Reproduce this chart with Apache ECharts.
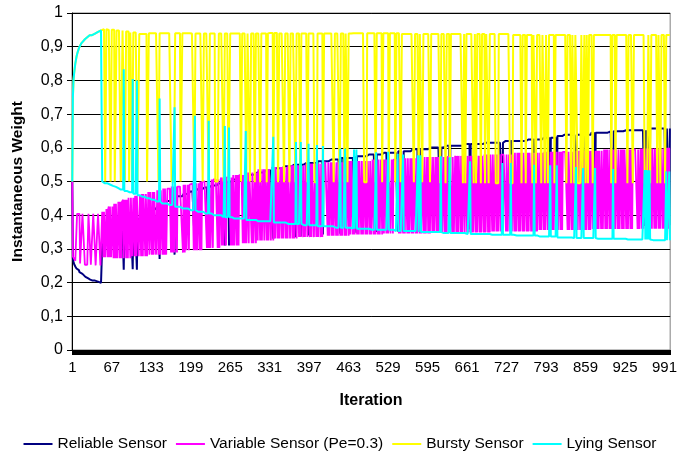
<!DOCTYPE html>
<html>
<head>
<meta charset="utf-8">
<script src="https://cdn.jsdelivr.net/npm/echarts@6/dist/echarts.min.js"></script>
<style>
  html, body { margin: 0; padding: 0; background: #ffffff; }
  #chart { width: 680px; height: 454px; }
</style>
</head>
<body>
<div id="chart"></div>
<script>
// Iterations 1..1000 on a category axis
const ITERATIONS = 1000;
const categories = Array.from({ length: ITERATIONS }, (_, i) => String(i + 1));

// Level tables are [firstIteration, value]: a value holds until the next entry.
// Start-up rise shared by the lying and bursty sensors (iterations 1-50)
const startupRise = [
  [1, 0.5], [2, 0.75], [3, 0.8], [4, 0.82], [5, 0.835], [6, 0.85], [8, 0.87],
  [10, 0.884], [12, 0.895], [14, 0.903], [16, 0.91], [19, 0.916], [22, 0.922],
  [26, 0.928], [30, 0.934], [35, 0.939], [40, 0.944], [45, 0.948], [50, 0.951]
];

// Reliable sensor
const reliableBase = [
  [1, 0.5], [2, 0.272], [3, 0.262], [4, 0.255], [6, 0.248], [8, 0.242], [10, 0.237],
  [13, 0.231], [16, 0.226], [19, 0.222], [23, 0.217], [27, 0.213], [31, 0.209],
  [35, 0.206], [40, 0.203], [45, 0.201], [49, 0.199],
  [51, 0.312], [55, 0.318], [60, 0.327], [66, 0.336], [72, 0.342], [78, 0.35],
  [85, 0.358], [92, 0.366], [99, 0.374], [106, 0.382], [113, 0.39], [120, 0.398],
  [128, 0.408], [136, 0.418], [144, 0.427], [152, 0.434], [160, 0.442], [168, 0.449],
  [177, 0.456], [187, 0.463], [198, 0.47], [210, 0.477], [222, 0.482], [234, 0.488],
  [246, 0.494], [258, 0.5], [270, 0.506], [283, 0.513], [296, 0.52], [310, 0.527],
  [325, 0.533], [340, 0.539], [356, 0.545], [372, 0.55], [390, 0.555], [410, 0.56],
  [430, 0.565], [450, 0.57], [472, 0.575], [495, 0.58], [520, 0.585], [545, 0.59],
  [570, 0.596], [597, 0.601], [625, 0.606], [655, 0.611], [690, 0.615], [725, 0.62],
  [760, 0.625], [790, 0.63], [812, 0.635], [822, 0.639], [869, 0.645], [897, 0.649],
  [925, 0.652], [964, 0.657]
];
const reliableDips = [
  [87, 0.238], [102, 0.24], [109, 0.238], [147, 0.27], [172, 0.283], [206, 0.298],
  [229, 0.303], [256, 0.31], [263, 0.31], [291, 0.32], [337, 0.33], [375, 0.335],
  [383, 0.337], [396, 0.34], [410, 0.342], [420, 0.343], [449, 0.345], [457, 0.346],
  [472, 0.348], [476, 0.348], [509, 0.35], [529, 0.35], [545, 0.352], [554, 0.352],
  [579, 0.354], [583, 0.354], [617, 0.356], [632, 0.356], [666, 0.358], [720, 0.36],
  [734, 0.36], [773, 0.362], [800, 0.363], [811, 0.363], [843, 0.365], [855, 0.365],
  [875, 0.366], [905, 0.367], [958, 0.368], [960, 0.368], [962, 0.368], [964, 0.368],
  [966, 0.368], [994, 0.37], [999, 0.37]
];

// Variable sensor (Pe=0.3): upper and lower levels, and the iterations spent low
const variableHigh = [
  [1, 0.5], [2, 0.404], [51, 0.41], [56, 0.418], [62, 0.426], [70, 0.434], [78, 0.44],
  [86, 0.446], [95, 0.452], [105, 0.458], [116, 0.463], [128, 0.469], [140, 0.474],
  [152, 0.479], [166, 0.485], [182, 0.49], [198, 0.495], [215, 0.5], [232, 0.506],
  [250, 0.512], [270, 0.519], [290, 0.527], [312, 0.536], [335, 0.543], [360, 0.548],
  [390, 0.553], [420, 0.557], [460, 0.561], [500, 0.565], [545, 0.569], [590, 0.573],
  [640, 0.576], [690, 0.58], [740, 0.585], [790, 0.588], [840, 0.591], [890, 0.595],
  [950, 0.598], [990, 0.6]
];
const variableLow = [
  [1, 0.5], [2, 0.277], [6, 0.265], [12, 0.257], [20, 0.253], [35, 0.251],
  [51, 0.275], [70, 0.272], [100, 0.278], [130, 0.283], [160, 0.289], [190, 0.296],
  [220, 0.303], [250, 0.31], [280, 0.317], [310, 0.325], [340, 0.331], [380, 0.335],
  [420, 0.339], [465, 0.343], [520, 0.346], [600, 0.349], [700, 0.352], [780, 0.356],
  [870, 0.359], [950, 0.36]
];
// [firstIteration, length] of each low stretch
const variableLowRuns = [
  [2, 7], [14, 4], [22, 6], [32, 4], [40, 4], [48, 3],
  [53, 1], [56, 2], [60, 1], [63, 1], [66, 2], [70, 1], [73, 1], [76, 2], [80, 1],
  [83, 1], [87, 2], [91, 1], [94, 1], [98, 1], [101, 2], [105, 1], [108, 1], [112, 2],
  [116, 1], [119, 1], [123, 1], [126, 2], [130, 1], [134, 1], [137, 1], [141, 2],
  [145, 1], [148, 1],
  [152, 1], [155, 1], [158, 2], [166, 1], [169, 1], [172, 2], [176, 1], [186, 1],
  [189, 1], [192, 2], [196, 1], [204, 1], [207, 1], [210, 2], [214, 1], [217, 1],
  [226, 1], [229, 1], [232, 2], [236, 1], [244, 1], [247, 2], [251, 1], [254, 1],
  [258, 1], [266, 1], [269, 1], [272, 2], [276, 1], [279, 1], [286, 1], [289, 1],
  [292, 2], [296, 1],
  [301, 1], [304, 2], [308, 1], [311, 1], [315, 1], [318, 2], [322, 1], [326, 1],
  [329, 1], [333, 2], [337, 1], [340, 1], [344, 1], [347, 2], [351, 1], [354, 1],
  [358, 1], [361, 1], [365, 2], [369, 1], [372, 1], [376, 2], [380, 1], [383, 1],
  [387, 1], [390, 2], [394, 1], [398, 1], [401, 1], [405, 2], [409, 1], [412, 1],
  [416, 1], [419, 1],
  [428, 1], [431, 2], [435, 1], [438, 1], [442, 1], [445, 2], [449, 1], [452, 1],
  [456, 1], [459, 2], [463, 1], [466, 1], [470, 1], [473, 2], [477, 1], [480, 1],
  [484, 1], [487, 2], [491, 1], [494, 1], [498, 1], [501, 2], [505, 1], [508, 1],
  [512, 1], [515, 2], [519, 1], [522, 1], [526, 1], [529, 1], [533, 2], [537, 1],
  [547, 1], [550, 2], [554, 1], [557, 1], [561, 1], [564, 2], [568, 1], [571, 1],
  [575, 1], [578, 2], [582, 1], [585, 1], [589, 1], [592, 2], [596, 1], [599, 1],
  [603, 1], [606, 2], [610, 1], [613, 1], [617, 1], [620, 2], [624, 1], [627, 1],
  [636, 1], [639, 2], [643, 1], [646, 1], [650, 1], [653, 2], [657, 1],
  [661, 1], [664, 2], [668, 1], [671, 1], [675, 1], [678, 2], [682, 1], [685, 1],
  [689, 1], [692, 2], [696, 1], [699, 1], [703, 1], [706, 2], [710, 1], [713, 1],
  [717, 1], [726, 1], [729, 2], [733, 1], [736, 1], [740, 1], [743, 2], [747, 1],
  [750, 1], [754, 1], [757, 2], [761, 1], [764, 1], [768, 1], [771, 2], [775, 1],
  [778, 1], [782, 1], [785, 2], [789, 1], [792, 1], [796, 1], [799, 2], [803, 1],
  [806, 1], [810, 1], [813, 2], [817, 1], [820, 1], [829, 1], [832, 2], [836, 1],
  [839, 1], [843, 1], [846, 2], [850, 1], [853, 1], [857, 1], [860, 2], [864, 1],
  [867, 1], [871, 1], [874, 2], [878, 1], [881, 1], [885, 1], [888, 2], [892, 1],
  [895, 1], [899, 1], [902, 2], [906, 1], [909, 1], [913, 1], [916, 2], [920, 1],
  [923, 1], [927, 1], [930, 2], [934, 1], [937, 1], [946, 1], [949, 2], [953, 1],
  [956, 1], [960, 1], [963, 2], [967, 1], [970, 1], [974, 1], [977, 2], [981, 1],
  [984, 1], [988, 1], [991, 2], [995, 1], [998, 1]
];

// Bursty sensor: high and low levels after start-up, and the bursts spent low
const burstyHigh = [
  [51, 0.952], [60, 0.95], [72, 0.948], [88, 0.945], [98, 0.942], [110, 0.938],
  [128, 0.94], [200, 0.939], [330, 0.941], [345, 0.939], [470, 0.94], [550, 0.938],
  [735, 0.935]
];
const burstyLow = [[51, 0.5], [300, 0.498], [600, 0.495]];
const burstyDips = [
  [56, 2], [65, 2], [72, 3], [82, 3], [89, 2], [96, 2], [101, 2], [110, 3], [126, 3],
  [145, 2], [167, 6], [182, 3], [205, 2], [219, 2], [229, 2], [240, 6], [254, 2],
  [262, 3], [283, 2], [292, 2], [298, 2], [306, 2], [315, 2], [326, 2], [337, 2],
  [345, 2], [355, 2], [364, 2], [374, 2], [382, 2], [394, 2], [406, 5], [420, 2],
  [438, 2], [448, 2], [456, 2], [461, 2], [489, 5], [508, 2], [519, 2], [530, 2],
  [541, 2], [550, 2], [572, 2], [580, 2], [586, 2], [599, 2], [616, 2], [625, 2],
  [632, 2], [654, 2], [658, 2], [672, 2], [676, 2], [684, 2], [691, 2], [697, 2],
  [709, 5], [733, 5], [752, 2], [759, 2], [770, 2], [776, 2], [785, 2], [791, 2],
  [796, 2], [807, 2], [827, 2], [835, 2], [840, 2], [846, 6], [854, 3], [859, 2],
  [863, 2], [871, 2], [902, 2], [909, 2], [929, 2], [938, 2], [958, 6], [967, 2],
  [979, 2], [984, 2], [992, 2]
];

// Lying sensor: level after start-up and its isolated upward spikes
const lyingBase = [
  [51, 0.5], [55, 0.495], [60, 0.491], [65, 0.487], [70, 0.484], [76, 0.48],
  [82, 0.476], [88, 0.472], [95, 0.468], [102, 0.464], [110, 0.459], [118, 0.455],
  [126, 0.45], [134, 0.446], [142, 0.441], [151, 0.435], [160, 0.43], [170, 0.425],
  [182, 0.42], [195, 0.415], [208, 0.41], [222, 0.405], [238, 0.4], [254, 0.394],
  [270, 0.39], [290, 0.386], [312, 0.382], [335, 0.378], [360, 0.374], [385, 0.37],
  [410, 0.367], [440, 0.363], [470, 0.36], [500, 0.357], [540, 0.353], [577, 0.35],
  [620, 0.347], [660, 0.344], [703, 0.342], [740, 0.34], [780, 0.337], [810, 0.334],
  [840, 0.332], [880, 0.33], [930, 0.328], [970, 0.326]
];
const lyingSpikes = [
  [87, 0.833], [102, 0.804], [109, 0.8], [147, 0.746], [172, 0.72], [206, 0.695],
  [229, 0.68], [256, 0.665], [263, 0.66], [291, 0.65], [337, 0.633], [375, 0.617],
  [383, 0.617], [396, 0.612], [410, 0.608], [420, 0.605], [449, 0.597], [457, 0.597],
  [472, 0.595], [476, 0.595], [509, 0.587], [529, 0.588], [545, 0.582], [554, 0.58],
  [579, 0.578], [583, 0.578], [617, 0.575], [632, 0.572], [666, 0.56], [720, 0.555],
  [734, 0.555], [773, 0.55], [800, 0.548], [811, 0.548], [843, 0.543], [855, 0.54],
  [875, 0.54], [905, 0.537], [958, 0.534], [960, 0.534], [962, 0.533], [964, 0.533],
  [966, 0.533], [994, 0.53], [999, 0.53]
];

const STARTUP_END = 50;

// Value of a level table at iteration i (held until the next entry)
function levelAt(table, i) {
  let v = table[0][1];
  for (const [start, val] of table) {
    if (start <= i) v = val; else break;
  }
  return v;
}
function inRuns(runs, i) {
  return runs.some(([s, len]) => i >= s && i < s + len);
}
function pointMap(list) {
  const m = new Map();
  list.forEach(([it, v]) => m.set(it, v));
  return m;
}

const relDipMap = pointMap(reliableDips);
const lieSpikeMap = pointMap(lyingSpikes);

const reliable = [], variable = [], bursty = [], lying = [];
for (let i = 1; i <= ITERATIONS; i++) {
  reliable.push(relDipMap.has(i) ? relDipMap.get(i) : levelAt(reliableBase, i));
  variable.push(inRuns(variableLowRuns, i) ? levelAt(variableLow, i) : levelAt(variableHigh, i));
  if (i <= STARTUP_END) {
    bursty.push(levelAt(startupRise, i));
    lying.push(levelAt(startupRise, i));
  } else {
    bursty.push(inRuns(burstyDips, i) ? levelAt(burstyLow, i) : levelAt(burstyHigh, i));
    lying.push(lieSpikeMap.has(i) ? lieSpikeMap.get(i) : levelAt(lyingBase, i));
  }
}

const FONT = '"Liberation Sans", Arial, sans-serif';

function lineSeries(name, data, color, width) {
  return {
    name, type: 'line', data,
    showSymbol: false, symbol: 'none',
    sampling: null,
    lineStyle: { color, width, join: 'bevel' },
    itemStyle: { color },
    emphasis: { disabled: true }
  };
}

const chart = echarts.init(document.getElementById('chart'), null, { renderer: 'canvas' });
chart.setOption({
  animation: false,
  backgroundColor: '#ffffff',
  textStyle: { fontFamily: FONT, color: '#000' },
  grid: {
    left: 72, right: 6, top: 13, bottom: 104,
    show: true, borderColor: '#808080', borderWidth: 1, backgroundColor: '#ffffff'
  },
  xAxis: {
    type: 'category',
    data: categories,
    boundaryGap: true,
    name: 'Iteration',
    nameLocation: 'middle',
    nameGap: 43,
    nameTextStyle: { fontFamily: FONT, fontSize: 16, fontWeight: 'bold', color: '#000' },
    axisLine: { lineStyle: { color: '#000', width: 1 } },
    axisTick: { show: true, interval: 0, length: 5, lineStyle: { color: '#000', width: 1 } },
    axisLabel: { interval: 65, fontFamily: FONT, fontSize: 15, color: '#000', margin: 10 },
    splitLine: { show: false }
  },
  yAxis: {
    type: 'value',
    min: 0, max: 1, interval: 0.1,
    name: 'Instantaneous Weight',
    nameLocation: 'middle',
    nameGap: 46,
    nameTextStyle: { fontFamily: FONT, fontSize: 15.5, fontWeight: 'bold', color: '#000' },
    axisLine: { show: true, lineStyle: { color: '#000', width: 1 } },
    axisTick: { show: true, length: 5, lineStyle: { color: '#000' } },
    axisLabel: {
      fontFamily: FONT, fontSize: 16, color: '#000', margin: 9,
      formatter: v => (v === 0 ? '0' : v === 1 ? '1' : v.toFixed(1).replace('.', ','))
    },
    splitLine: { show: true, lineStyle: { color: '#000', width: 1 } }
  },
  legend: {
    top: 431,
    left: 'center',
    icon: 'rect',
    itemWidth: 29,
    itemHeight: 2,
    itemGap: 9,
    textStyle: { fontFamily: FONT, fontSize: 15.5, color: '#000' },
    data: ['Reliable Sensor', 'Variable Sensor (Pe=0.3)', 'Bursty Sensor', 'Lying Sensor']
  },
  series: [
    lineSeries('Reliable Sensor', reliable, '#000080', 2),
    lineSeries('Variable Sensor (Pe=0.3)', variable, '#FF00FF', 1.8),
    lineSeries('Bursty Sensor', bursty, '#FFFF00', 2),
    lineSeries('Lying Sensor', lying, '#00FFFF', 2)
  ]
});
</script>
</body>
</html>
